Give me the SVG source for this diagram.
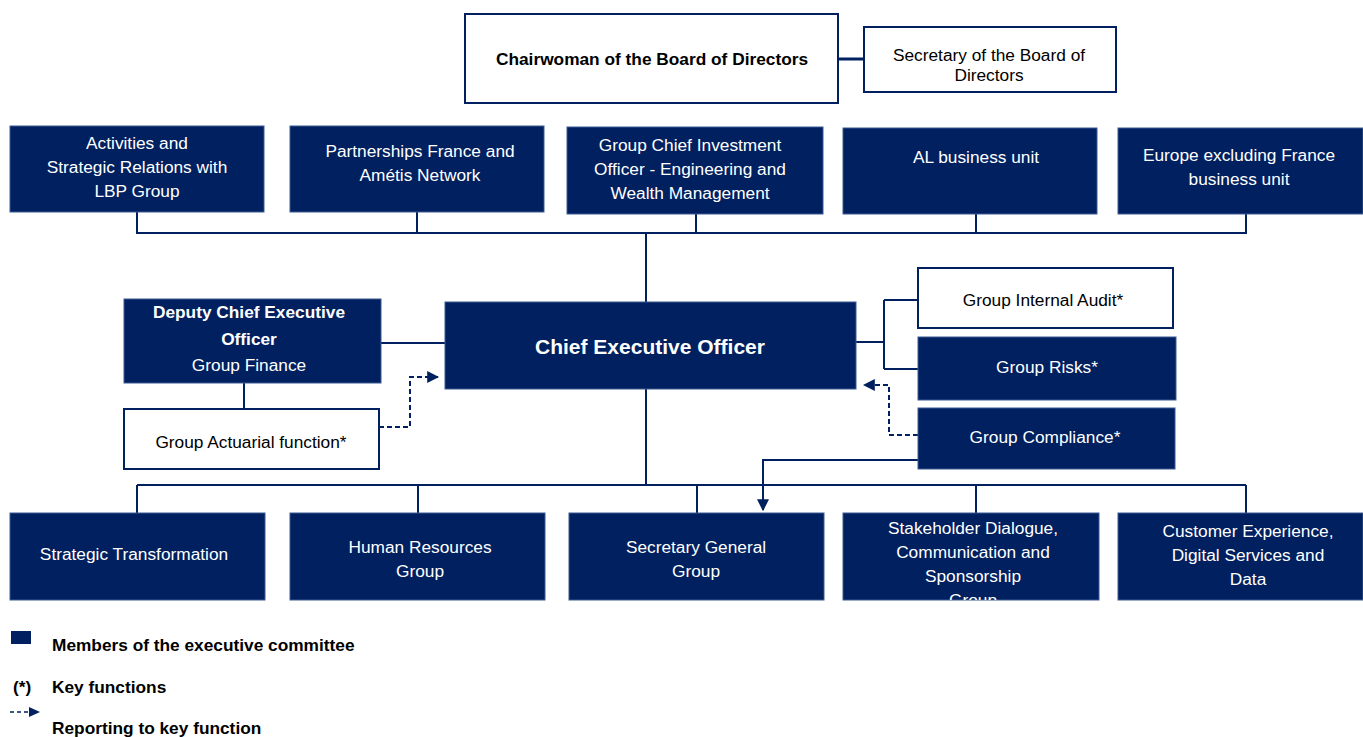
<svg xmlns="http://www.w3.org/2000/svg" width="1363" height="737" viewBox="0 0 1363 737">
<style>
.nv{fill:#002060;stroke:#3b5a94;stroke-width:1}
.wb{fill:#fff;stroke:#002060;stroke-width:2}
.t{font-family:"Liberation Sans",Arial,sans-serif;font-size:17.3px;text-anchor:middle}
.w{fill:#fff}
.k{fill:#000}
.b{font-weight:bold}
.ln{fill:none;stroke:#002060;stroke-width:2}
.ds{fill:none;stroke:#002060;stroke-width:2;stroke-dasharray:5,3}
.lg{font-family:"Liberation Sans",Arial,sans-serif;font-size:17.3px;font-weight:bold;fill:#000}
</style>
<defs>
<marker id="ah" viewBox="0 0 10 10" refX="9" refY="5" markerWidth="6" markerHeight="6" orient="auto" markerUnits="strokeWidth">
<path d="M0,0 L10,5 L0,10 Z" fill="#002060"/>
</marker>
<clipPath id="c4"><rect x="843" y="513" width="256" height="87"/></clipPath>
</defs>
<g id="connectors">
<path class="ln" d="M838,59 H864" style="stroke-width:3"/>
<path class="ln" d="M137,212 V233 H1246 V214 M417,212 V233 M696,214 V233 M976,214 V233 M646,233 V302"/>
<path class="ln" d="M381,343 H445"/>
<path class="ln" d="M244,383 V409"/>
<path class="ln" d="M856,342 H884 M884,300 V369 M884,300 H918 M884,369 H918"/>
<path class="ln" d="M646,389 V485 M137,485 H1246 M137,485 V513 M418,485 V513 M697,485 V513 M976,485 V513 M1246,485 V513"/>
<path class="ln" d="M918,460 H763 V510" marker-end="url(#ah)"/>
<path class="ds" d="M379,427 H410 V377 H438" marker-end="url(#ah)"/>
<path class="ds" d="M918,435 H889 V385 H864" marker-end="url(#ah)"/>
</g>
<g id="chairwoman"><rect class="wb" x="465" y="14" width="373" height="89"/><text class="t k b" x="652" y="65">Chairwoman of the Board of Directors</text></g>
<g id="secretary-board"><rect class="wb" x="864" y="27" width="252" height="65"/><text class="t k" x="989" y="61">Secretary of the Board of</text><text class="t k" x="989" y="81">Directors</text></g>
<g id="activities"><rect class="nv" x="10" y="126" width="254" height="86"/><text class="t w" x="137" y="149">Activities and</text><text class="t w" x="137" y="173">Strategic Relations with</text><text class="t w" x="137" y="197">LBP Group</text></g>
<g id="partnerships"><rect class="nv" x="290" y="126" width="254" height="86"/><text class="t w" x="420" y="157">Partnerships France and</text><text class="t w" x="420" y="181">Amétis Network</text></g>
<g id="cio"><rect class="nv" x="567" y="127" width="256" height="87"/><text class="t w" x="690" y="151">Group Chief Investment</text><text class="t w" x="690" y="175">Officer - Engineering and</text><text class="t w" x="690" y="199">Wealth Management</text></g>
<g id="al"><rect class="nv" x="843" y="128" width="254" height="86"/><text class="t w" x="976" y="163">AL business unit</text></g>
<g id="europe"><rect class="nv" x="1118" y="128" width="245" height="86"/><text class="t w" x="1239" y="161">Europe excluding France</text><text class="t w" x="1239" y="185">business unit</text></g>
<g id="ceo"><rect class="nv" x="445" y="302" width="411" height="87"/><text class="t w b" x="650" y="354" style="font-size:21px">Chief Executive Officer</text></g>
<g id="deputy"><rect class="nv" x="124" y="299" width="257" height="84"/><text class="t w b" x="249" y="318">Deputy Chief Executive</text><text class="t w b" x="249" y="345">Officer</text><text class="t w" x="249" y="371">Group Finance</text></g>
<g id="actuarial"><rect class="wb" x="124" y="409" width="255" height="60"/><text class="t k" x="251" y="448">Group Actuarial function*</text></g>
<g id="audit"><rect class="wb" x="918" y="268" width="255" height="60"/><text class="t k" x="1043" y="306">Group Internal Audit*</text></g>
<g id="risks"><rect class="nv" x="918" y="337" width="258" height="63"/><text class="t w" x="1047" y="373">Group Risks*</text></g>
<g id="compliance"><rect class="nv" x="918" y="408" width="257" height="61"/><text class="t w" x="1045" y="443">Group Compliance*</text></g>
<g id="strategic"><rect class="nv" x="10" y="513" width="255" height="87"/><text class="t w" x="134" y="560">Strategic Transformation</text></g>
<g id="hr"><rect class="nv" x="290" y="513" width="255" height="87"/><text class="t w" x="420" y="553">Human Resources</text><text class="t w" x="420" y="577">Group</text></g>
<g id="secgen"><rect class="nv" x="569" y="513" width="255" height="87"/><text class="t w" x="696" y="553">Secretary General</text><text class="t w" x="696" y="577">Group</text></g>
<g id="stakeholder"><rect class="nv" x="843" y="513" width="256" height="87"/><g clip-path="url(#c4)"><text class="t w" x="973" y="534">Stakeholder Dialogue,</text><text class="t w" x="973" y="558">Communication and</text><text class="t w" x="973" y="582">Sponsorship</text><text class="t w" x="973" y="606">Group</text></g></g>
<g id="customer"><rect class="nv" x="1118" y="513" width="245" height="87"/><text class="t w" x="1248" y="537">Customer Experience,</text><text class="t w" x="1248" y="561">Digital Services and</text><text class="t w" x="1248" y="585">Data</text></g>
<g id="legend">
<rect x="11" y="631" width="20" height="13" fill="#002060"/>
<text class="lg" x="52" y="651">Members of the executive committee</text>
<text class="lg" x="13" y="693">(*)</text>
<text class="lg" x="52" y="693">Key functions</text>
<path d="M10,712 H28" fill="none" stroke="#002060" stroke-width="1.5" stroke-dasharray="4,3"/>
<path d="M29,707 L40,712 L29,717 Z" fill="#002060"/>
<text class="lg" x="52" y="734">Reporting to key function</text>
</g>
</svg>
